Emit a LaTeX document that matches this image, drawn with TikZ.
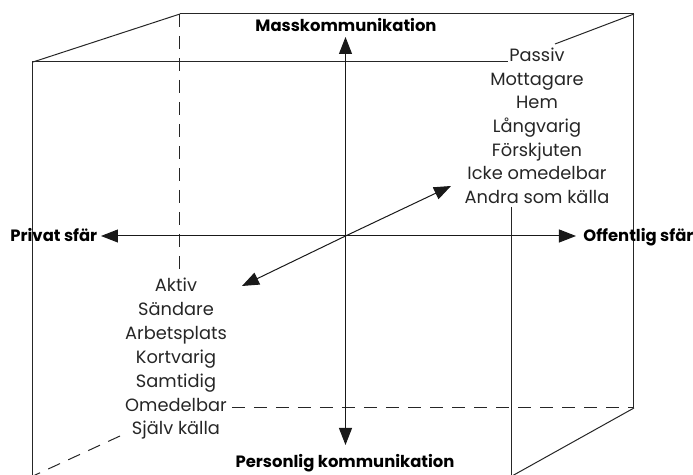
\documentclass[tikz,border=0pt]{standalone}
\usepackage{fontspec}
\setmainfont{Poppins}
\usetikzlibrary{arrows.meta}
\begin{document}
\begin{tikzpicture}[x=0.5pt,y=-0.5pt,
	kante/.style={line width=0.5pt, black!85},
	verdeckt/.style={kante, dash pattern=on 6.5pt off 4.5pt},
	achse/.style={line width=0.5pt, black!90, -{Triangle[length=8.5pt,width=6.5pt]}},
	begriff/.style={anchor=base, inner sep=0pt, text=black!85, font=\fontsize{8.9}{12}\selectfont},
	pol/.style={begriff, text=black, font=\fontsize{8.2}{12}\selectfont\bfseries}]
	\useasboundingbox (0,0) rectangle (693,475);
	\clip (0,0) rectangle (693,475);

	%Wuerfel hinten
	\draw[kante] (180,14) -- (634,14) -- (634,408);
	\draw[verdeckt] (180,14) -- (180,272);
	\draw[verdeckt] (232,408) -- (634,408);
	%Wuerfel vorne
	\draw[kante] (508,62) -- (33,62) -- (33,476);
	\draw[kante] (512,207) -- (512,476);
	%Schraegen
	\draw[kante] (33,62) -- (180,14);
	\draw[kante] (555,44) -- (634,14);
	\draw[kante] (634,408) -- (512,476);
	\draw[verdeckt] (120,436) -- (33,476);

	%Achsen
	\coordinate (O) at (345.5,236);
	\coordinate (oben) at (345.5,37);
	\coordinate (unten) at (345.5,445);
	\coordinate (links) at (101,236);
	\coordinate (rechts) at (576,236);
	\coordinate (hinten) at (451,186);
	\coordinate (vorne) at (242,286);
	\draw[achse] (O) -- (oben);
	\draw[achse] (O) -- (unten);
	\draw[achse] (O) -- (links);
	\draw[achse] (O) -- (rechts);
	\draw[achse] (O) -- (hinten);
	\draw[achse] (O) -- (vorne);

	\node[pol] (mass) at (346,32) {Masskommunikation};
	\node[pol] (pers) at (345,468) {Personlig kommunikation};
	\node[pol, anchor=base west] (privat) at (10,242) {Privat sfär};
	\node[pol, anchor=base west] (offentlig) at (583,242) {Offentlig sfär};

	%Begriffe
	\foreach \t [count=\i from 0] in {Passiv, Mottagare, Hem, Långvarig, Förskjuten, Icke omedelbar, Andra som källa}
		\node[begriff] (r\i) at (537,61.5+23.67*\i) {\t};
	\foreach \t [count=\i from 0] in {Aktiv, Sändare, Arbetsplats, Kortvarig, Samtidig, Omedelbar, Själv källa}
		\node[begriff] (l\i) at (176,292+23.83*\i) {\t};
\end{tikzpicture}
\end{document}
